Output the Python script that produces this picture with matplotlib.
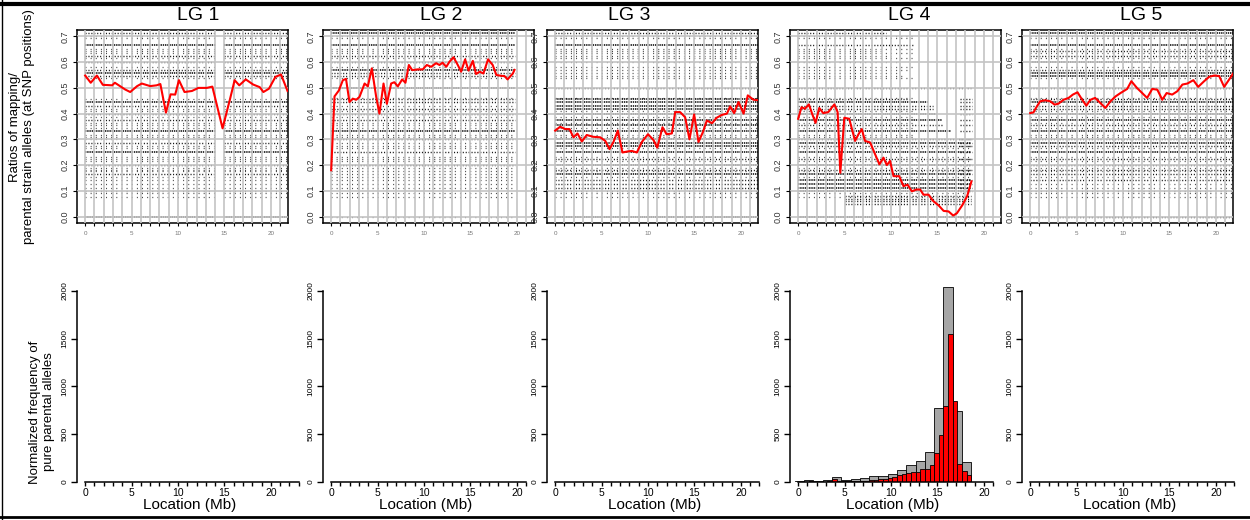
import matplotlib
matplotlib.use("Agg")
import matplotlib.pyplot as plt
from matplotlib.lines import Line2D
import numpy as np

plt.rcParams["font.family"] = ["Liberation Sans", "DejaVu Sans"]
plt.rcParams["lines.scale_dashes"] = False

lg_names = ["LG 1", "LG 2", "LG 3", "LG 4", "LG 5"]

# running ratio (red line) per linkage group: location (Mb), ratio
lg1_x = [0.0, 0.6, 1.26, 1.9, 2.9, 3.2, 4.3, 4.85, 5.6, 6.1, 7.0, 7.7, 8.1, 8.7, 9.2, 9.7,
         10.1, 10.7, 11.5, 12.2, 13.1, 13.7, 14.8, 15.6, 16.1, 16.6, 17.3, 18.1, 18.8,
         19.2, 19.8, 20.5, 21.1, 21.8]
lg1_y = [0.548, 0.52, 0.548, 0.512, 0.51, 0.52, 0.494, 0.484, 0.507, 0.517, 0.507, 0.51,
         0.515, 0.404, 0.475, 0.474, 0.53, 0.484, 0.488, 0.50, 0.50, 0.505, 0.343, 0.456,
         0.53, 0.51, 0.533, 0.513, 0.503, 0.484, 0.497, 0.543, 0.552, 0.488]

lg2_x = [0.0, 0.36, 0.83, 1.26, 1.6, 1.97, 2.33, 2.7, 3.05, 3.6, 3.95, 4.38, 4.85, 5.2,
         5.64, 6.0, 6.46, 6.8, 7.18, 7.65, 8.0, 8.37, 8.73, 9.34, 9.87, 10.3, 10.77, 11.3,
         11.67, 12.0, 12.4, 12.75, 13.18, 13.64, 14.0, 14.43, 14.8, 15.26, 15.6, 16.0,
         16.4, 16.9, 17.4, 17.8, 18.3, 18.67, 19.0, 19.57, 19.75]
lg2_y = [0.18, 0.467, 0.49, 0.53, 0.535, 0.445, 0.458, 0.454, 0.465, 0.517, 0.506, 0.576,
         0.465, 0.40, 0.517, 0.438, 0.517, 0.522, 0.506, 0.533, 0.52, 0.589, 0.569, 0.572,
         0.572, 0.589, 0.582, 0.596, 0.589, 0.598, 0.582, 0.602, 0.619, 0.589, 0.563,
         0.611, 0.567, 0.605, 0.554, 0.563, 0.556, 0.611, 0.589, 0.55, 0.547, 0.546,
         0.533, 0.556, 0.57]

lg3_x = [0.0, 0.54, 1.08, 1.54, 1.97, 2.4, 2.87, 3.4, 4.1, 4.85, 5.4, 5.85, 6.28, 6.75,
         7.25, 7.8, 8.26, 8.8, 9.34, 10.0, 10.6, 11.0, 11.56, 12.0, 12.57, 12.93, 13.46,
         14.0, 14.47, 14.97, 15.44, 15.9, 16.34, 16.9, 17.4, 17.95, 18.5, 18.85, 19.28,
         19.75, 20.3, 20.75, 21.36, 21.97]
lg3_y = [0.334, 0.349, 0.34, 0.34, 0.308, 0.323, 0.292, 0.317, 0.31, 0.308, 0.294, 0.262,
         0.29, 0.334, 0.249, 0.253, 0.255, 0.249, 0.29, 0.32, 0.297, 0.268, 0.347, 0.32,
         0.323, 0.406, 0.406, 0.386, 0.30, 0.397, 0.29, 0.327, 0.373, 0.363, 0.384, 0.395,
         0.40, 0.428, 0.402, 0.445, 0.40, 0.471, 0.454, 0.452]

lg4_x = [0.0, 0.36, 0.72, 1.15, 1.5, 1.87, 2.27, 2.7, 3.24, 3.9, 4.25, 4.54, 4.97, 5.5,
         6.13, 6.5, 6.85, 7.2, 7.75, 8.29, 8.75, 9.19, 9.55, 9.9, 10.27, 10.88, 11.35,
         11.78, 12.25, 12.72, 13.15, 13.5, 14.05, 14.5, 15.14, 15.67, 16.2, 16.7, 17.1,
         17.66, 18.2, 18.67]
lg4_y = [0.38, 0.425, 0.419, 0.436, 0.40, 0.364, 0.422, 0.402, 0.406, 0.436, 0.406, 0.17,
         0.384, 0.38, 0.294, 0.32, 0.34, 0.294, 0.288, 0.242, 0.203, 0.229, 0.20, 0.216,
         0.157, 0.157, 0.118, 0.124, 0.098, 0.105, 0.105, 0.085, 0.085, 0.062, 0.043,
         0.022, 0.02, 0.004, 0.013, 0.043, 0.079, 0.137]

lg5_x = [0.0, 0.36, 0.72, 1.08, 1.62, 2.16, 2.63, 3.06, 3.6, 4.14, 4.6, 5.1, 5.6, 6.05,
         6.5, 7.0, 7.57, 8.1, 8.65, 9.2, 9.73, 10.45, 10.9, 11.5, 12.07, 12.6, 13.15,
         13.7, 14.23, 14.7, 15.3, 15.85, 16.4, 16.94, 17.58, 18.1, 18.74, 19.28, 19.82,
         20.36, 20.9, 21.44, 21.87]
lg5_y = [0.402, 0.405, 0.428, 0.448, 0.452, 0.448, 0.435, 0.439, 0.454, 0.461, 0.474,
         0.483, 0.454, 0.431, 0.454, 0.461, 0.441, 0.422, 0.448, 0.467, 0.48, 0.496, 0.526,
         0.50, 0.48, 0.461, 0.496, 0.493, 0.454, 0.48, 0.474, 0.487, 0.513, 0.517, 0.53,
         0.504, 0.526, 0.543, 0.548, 0.546, 0.504, 0.533, 0.556]

# discrete allele-ratio levels where the SNP points pile up, and how dense each row is
ratio_levels = [0.0, 0.1, 0.111, 0.125, 0.143, 0.167, 0.182, 0.2, 0.222, 0.25, 0.273,
                0.286, 0.3, 0.333, 0.357, 0.375, 0.4, 0.417, 0.429, 0.444, 0.455, 0.5,
                0.545, 0.556, 0.571, 0.6, 0.625, 0.643, 0.667, 0.714]
lg1_density = [3, 1, 1, 1, 1, 2, 1, 2, 1, 3, 1, 2, 1, 3, 1, 2, 2, 1, 2, 3, 1, 0,
               2, 3, 2, 2, 2, 1, 3, 2]
lg2_density = [1, 0, 1, 1, 1, 1, 0, 2, 1, 2, 1, 1, 2, 3, 1, 2, 2, 2, 1, 2, 2, 3,
               2, 2, 3, 2, 2, 1, 3, 3]
lg3_density = [3, 1, 2, 2, 2, 3, 2, 3, 2, 3, 3, 3, 3, 3, 3, 3, 3, 3, 3, 3, 3, 2,
               1, 1, 1, 1, 1, 1, 3, 2]
lg4_density = [3, 3, 3, 3, 3, 3, 2, 3, 2, 3, 2, 3, 2, 3, 2, 3, 3, 2, 2, 3, 2, 2,
               1, 1, 1, 1, 1, 1, 2, 2]
lg5_density = [2, 1, 1, 1, 2, 2, 2, 2, 2, 3, 2, 3, 2, 3, 2, 3, 3, 2, 2, 3, 2, 2,
               3, 3, 2, 3, 2, 2, 3, 3]
# rarer ratios with only scattered points
sparse_levels = [0.077, 0.091, 0.154, 0.176, 0.188, 0.214, 0.231, 0.267, 0.308, 0.318,
                 0.346, 0.364, 0.385, 0.409, 0.462, 0.538, 0.583, 0.615, 0.636, 0.65,
                 0.692, 0.7]
# where the rows of points run (Mb)
lg1_spans = [(0.0, 14.1), (15.0, 21.8)]
lg2_spans = [(0.0, 19.8)]
lg3_spans = [(0.0, 21.9)]
lg5_spans = [(0.0, 21.85)]
lg4_row_end = [18.6, 18.6, 18.6, 18.6, 18.6, 18.6, 18.6, 18.6, 18.6, 18.6, 18.6, 18.6,
               18.6, 16.5, 15.5, 15.5, 15.0, 14.5, 14.5, 14.0, 12.0, 18.6, 11.5, 11.0,
               12.0, 11.0, 10.0, 9.0, 12.5, 9.5]
lg4_sparse_end_low = 18.6   # for ratios below 0.3
lg4_sparse_end_high = 12.5  # for ratios above 0.3
lg4_cloud_levels = [0.05, 0.06, 0.07, 0.08]
lg4_cloud_span = (5.0, 18.6)
lg4_cluster_span = (17.4, 18.7)

# normalized frequency of pure parental alleles, LG 4 (others ~empty)
hist_start = -0.35
gray_width = 1.0
red_width = 0.5
lg4_gray = [10, 17, 14, 17, 52, 24, 31, 42, 59, 59, 83, 128, 173, 222, 319, 776, 2042,
            745, 208]
lg4_red = [3, 5, 4, 6, 4, 5, 5, 6, 30, 10, 8, 8, 10, 10, 12, 15, 20, 25, 28, 30, 40, 55,
           70, 85, 90, 100, 100, 139, 139, 180, 308, 492, 794, 1549, 846, 187, 111, 69]

red_x = [lg1_x, lg2_x, lg3_x, lg4_x, lg5_x]
red_y = [lg1_y, lg2_y, lg3_y, lg4_y, lg5_y]
densities = [lg1_density, lg2_density, lg3_density, lg4_density, lg5_density]
spans = [lg1_spans, lg2_spans, lg3_spans, None, lg5_spans]
bottom_max_tick = [23, 21, 22, 21, 22]

W, H = 1250, 520
fig = plt.figure(figsize=(W / 100, H / 100), dpi=100)

panel_left = [77, 323, 547, 790, 1022]
title_x = [198, 441, 629, 909, 1141]
xlo, xhi = -0.88, 21.85
px_per_mb = 211 / (xhi - xlo)

row_styles = {1: ((0, (0.7, 3.0)), 0.75, 0.9),
              2: ((0, (0.8, 1.3)), 0.9, 1.0),
              3: ((0, (1.0, 0.6)), 1.0, 1.1)}
grid_kw = dict(color="#c4c4c4", linewidth=1.2)


def draw_rows(ax, levels, dens, x0, x1):
    for d, (ls, a, lw) in row_styles.items():
        sel = [i for i in range(len(levels)) if dens[i] == d]
        if not sel:
            continue
        ax.hlines([levels[i] for i in sel], [x0[i] for i in sel], [x1[i] for i in sel],
                  colors="k", linestyles=[ls], linewidth=lw, alpha=a, zorder=2)


for k, name in enumerate(lg_names):
    left = panel_left[k]
    # ---- top: allele ratio along the chromosome
    ax = fig.add_axes([left / W, 1 - 223 / H, 211 / W, 193 / H])
    ax.set_xlim(xlo, xhi)
    ax.set_ylim(-0.025, 0.725)
    n = len(ratio_levels)
    ns = len(sparse_levels)
    if spans[k] is not None:
        if name == "LG 1":
            sp = [v for v in sparse_levels if not 0.46 < v < 0.53]
        else:
            sp = sparse_levels
        for a0, a1 in spans[k]:
            draw_rows(ax, ratio_levels, densities[k], [a0] * n, [a1] * n)
            draw_rows(ax, sp, [1] * len(sp), [a0] * len(sp), [a1] * len(sp))
    else:
        draw_rows(ax, ratio_levels, densities[k], [0.0] * n, lg4_row_end)
        sp_end = [lg4_sparse_end_low if v < 0.3 else lg4_sparse_end_high for v in sparse_levels]
        draw_rows(ax, sparse_levels, [1] * ns, [0.0] * ns, sp_end)
        nc = len(lg4_cloud_levels)
        draw_rows(ax, lg4_cloud_levels, [2] * nc, [lg4_cloud_span[0]] * nc,
                  [lg4_cloud_span[1]] * nc)
        low = [i for i in range(n) if ratio_levels[i] < 0.46]
        draw_rows(ax, [ratio_levels[i] for i in low], [2] * len(low),
                  [lg4_cluster_span[0]] * len(low), [lg4_cluster_span[1]] * len(low))
    ax.plot(red_x[k], red_y[k], color="red", lw=1.5, zorder=4)

    ax.set_xticks([0, 5, 10, 15, 20])
    ax.set_xticks(range(0, 22), minor=True)
    ax.set_yticks(np.arange(0, 0.71, 0.1))
    ax.set_yticklabels([f"{v:.1f}" for v in np.arange(0, 0.71, 0.1)])
    ax.set_axisbelow(False)
    ax.grid(True, which="both", axis="x", **grid_kw)
    ax.grid(True, which="major", axis="y", **grid_kw)
    ax.tick_params(axis="x", which="both", direction="out", length=2.5, width=0.8,
                   labelsize=4.5, labelcolor="#777777", pad=3)
    ax.tick_params(axis="y", direction="out", length=3, width=0.8, labelsize=6.5,
                   labelcolor="#333333", pad=2)
    for t in ax.get_yticklabels():
        t.set_rotation(90)
        t.set_va("center")
    for s in ax.spines.values():
        s.set_linewidth(1.1)

    # ---- bottom: histogram of pure parental alleles
    bx_hi = bottom_max_tick[k] + 0.3
    bw = (bx_hi - xlo) * px_per_mb
    bx = fig.add_axes([left / W, 1 - 482 / H, bw / W, 202 / H])
    bx.set_xlim(xlo, bx_hi)
    bx.set_ylim(0, 2115)
    if name == "LG 4":
        gx = hist_start + gray_width * np.arange(len(lg4_gray))
        rx = hist_start + red_width * np.arange(len(lg4_red))
        bx.bar(gx, lg4_gray, width=gray_width, align="edge", color="#a6a6a6",
               edgecolor="black", linewidth=0.6)
        bx.bar(rx, lg4_red, width=red_width, align="edge", color="#ff0000",
               edgecolor="black", linewidth=0.6)
    for side in ("top", "right"):
        bx.spines[side].set_visible(False)
    bx.spines["left"].set_bounds(0, 2000)
    bx.spines["bottom"].set_bounds(0, bottom_max_tick[k])
    for side in ("left", "bottom"):
        bx.spines[side].set_linewidth(1.1)
    bx.set_xticks([0, 5, 10, 15, 20])
    bx.set_xticks(range(0, bottom_max_tick[k] + 1), minor=True)
    bx.set_yticks([0, 500, 1000, 1500, 2000])
    bx.tick_params(axis="x", which="both", direction="out", length=3, width=1,
                   labelsize=7.5, pad=1)
    bx.tick_params(axis="y", direction="out", length=4, width=1, labelsize=6, pad=2)
    for t in bx.get_yticklabels():
        t.set_rotation(90)
        t.set_va("center")
    bx.set_xlabel("Location (Mb)", fontsize=11, labelpad=0)

    fig.text(title_x[k] / W, 1 - 15 / H, name, fontsize=14, ha="center", va="center")

fig.text(22 / W, 1 - 127 / H, "Ratios of mapping/\nparental strain alleles (at SNP positions)",
         rotation=90, fontsize=9.5, ha="center", va="center", multialignment="center")
fig.text(42 / W, 1 - 412 / H, "Normalized frequency of\npure parental alleles",
         rotation=90, fontsize=9.5, ha="center", va="center", multialignment="center")

# frame around the figure
fig.add_artist(Line2D([0, 1], [1 - 3.5 / H] * 2, lw=3, color="k", transform=fig.transFigure))
fig.add_artist(Line2D([0, 1], [1 - 516.5 / H] * 2, lw=2, color="k", transform=fig.transFigure))
fig.add_artist(Line2D([2 / W] * 2, [0, 1], lw=1, color="k", transform=fig.transFigure))

fig.savefig("out.png", dpi=100)
